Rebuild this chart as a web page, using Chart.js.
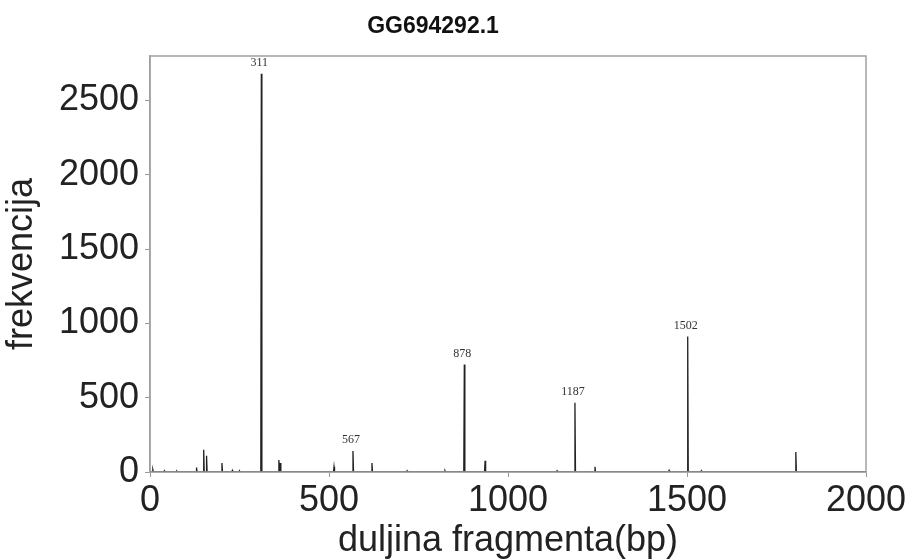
<!DOCTYPE html>
<html>
<head>
<meta charset="utf-8">
<script src="https://cdn.jsdelivr.net/npm/chart.js@4.4.1/dist/chart.umd.min.js"></script>
<style>
  html, body { margin: 0; padding: 0; background: #fff; }
  #wrap { width: 910px; height: 559px; }
</style>
</head>
<body>
<div id="wrap"><canvas id="fragmenti"></canvas></div>
<script>
// duljine fragmenata (bp) i frekvencije očitane sa slike
var pozicije = [8, 40, 75, 130, 150, 158, 201, 230, 250, 311, 360, 364, 514, 567, 620, 718, 824, 878, 936, 1137, 1187, 1243, 1450, 1502, 1540, 1804];
var frekvencije = [15, 8, 5, 30, 150, 110, 60, 10, 8, 2680, 80, 60, 35, 142, 60, 8, 8, 723, 75, 8, 466, 35, 10, 912, 8, 135];
// vrhovi s oznakom
var oznaceniVrhovi = [311, 567, 878, 1187, 1502];
var xOznake = [0, 500, 1000, 1500, 2000];
var yOznake = [0, 500, 1000, 1500, 2000, 2500];
var naslov = 'GG694292.1';

// spektar: svaki vrh je uska linija s nulom lijevo i desno
var tocke = [{ x: 0, y: 0 }];
pozicije.forEach(function(p, i) {
    tocke.push({ x: p - 1.5, y: 0 });
    tocke.push({ x: p, y: frekvencije[i] });
    tocke.push({ x: p + 1.5, y: 0 });
});
tocke.push({ x: 2000, y: 0 });

var okvirIOznake = {
    id: 'okvirIOznake',
    afterDraw: function(chart) {
        var ctx = chart.ctx;
        var a = chart.chartArea;
        var xs = chart.scales.x, ys = chart.scales.y;
        ctx.save();
        ctx.strokeStyle = '#a0a0a0';
        ctx.lineWidth = 1.5;
        ctx.strokeRect(a.left, a.top, a.right - a.left, a.bottom - a.top);

        ctx.fillStyle = '#333';
        ctx.font = '12px "Liberation Serif"';
        ctx.textAlign = 'center';
        ctx.textBaseline = 'bottom';
        oznaceniVrhovi.forEach(function(p) {
            var h = frekvencije[pozicije.indexOf(p)];
            ctx.fillText(String(p), xs.getPixelForValue(p) - 2, ys.getPixelForValue(h) - 5);
        });

        ctx.fillStyle = '#111';
        ctx.font = 'bold 23px "Liberation Sans"';
        ctx.textBaseline = 'middle';
        ctx.fillText(naslov, 433, 27);
        ctx.restore();
    }
};

var ctx_fragmenti = document.getElementById('fragmenti').getContext('2d');
new Chart(ctx_fragmenti, {
    type: 'line',
    data: {
        datasets: [{
            data: tocke,
            borderColor: '#222',
            borderWidth: 1.3,
            pointRadius: 0,
            tension: 0,
            fill: false
        }]
    },
    options: {
        responsive: true,
        maintainAspectRatio: false,
        animation: false,
        layout: { padding: { top: 56, right: 44, left: 0, bottom: 0 } },
        plugins: {
            legend: { display: false },
            tooltip: { enabled: false }
        },
        scales: {
            x: {
                type: 'linear',
                min: 0,
                max: 2000,
                afterBuildTicks: function(scale) {
                    scale.ticks = xOznake.map(function(v) { return { value: v }; });
                },
                afterFit: function(scale) { scale.height = 87; },
                grid: { drawOnChartArea: false, tickLength: 5, color: '#999' },
                border: { color: '#a0a0a0', width: 1.5 },
                ticks: {
                    color: '#222',
                    padding: 2,
                    maxRotation: 0,
                    font: { family: 'Liberation Sans', size: 36 },
                    callback: function(value) { return String(value); }
                },
                title: {
                    display: true,
                    text: 'duljina fragmenta(bp)',
                    color: '#222',
                    padding: 0,
                    font: { family: 'Liberation Sans', size: 36, lineHeight: 1.0 }
                }
            },
            y: {
                min: 0,
                max: 2800,
                afterBuildTicks: function(scale) {
                    scale.ticks = yOznake.map(function(v) { return { value: v }; });
                },
                afterFit: function(scale) { scale.width = 150; },
                grid: { drawOnChartArea: false, tickLength: 5, color: '#999' },
                border: { color: '#a0a0a0', width: 1.5 },
                ticks: {
                    color: '#222',
                    padding: 6,
                    font: { family: 'Liberation Sans', size: 36 },
                    callback: function(value) { return String(value); }
                },
                title: {
                    display: true,
                    text: 'frekvencija',
                    color: '#222',
                    padding: 0,
                    font: { family: 'Liberation Sans', size: 36 }
                }
            }
        }
    },
    plugins: [okvirIOznake]
});
</script>
</body>
</html>
